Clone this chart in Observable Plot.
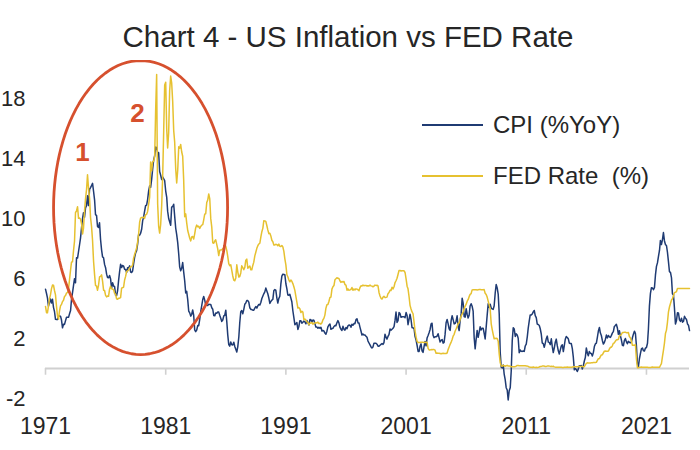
<!DOCTYPE html>
<html>
<head>
<meta charset="utf-8">
<script src="https://cdn.jsdelivr.net/npm/d3@7"></script>
<script src="https://cdn.jsdelivr.net/npm/@observablehq/plot@0.6"></script>
<style>
  body { margin: 0; background: #fff; }
  #wrap { position: relative; width: 700px; height: 450px; overflow: hidden;
          font-family: "Liberation Sans", Arial, sans-serif; color: #262626; }
  #title { position: absolute; left: 0; top: 22px; width: 696px; text-align: center;
           font-size: 29.5px; line-height: 29px; }
  #chart { position: absolute; left: 0; top: 60px; }
  .sw { position: absolute; left: 422px; width: 61px; height: 1.6px; }
  .lt { position: absolute; left: 493px; font-size: 24px; line-height: 24px; white-space: pre; }
</style>
</head>
<body>
<div id="wrap">
  <div id="title">Chart 4 - US Inflation vs FED Rate</div>
  <div id="chart"></div>
  <div class="sw" id="sw0" style="top:124.2px"></div>
  <div class="lt" id="lt0" style="top:113.3px"></div>
  <div class="sw" id="sw1" style="top:175.2px"></div>
  <div class="lt" id="lt1" style="top:164.3px"></div>
</div>
<script>
// ---- Data (monthly, starting January 1971) ----
const startYear = 1971;
const seriesNames = ["CPI (%YoY)", "FED Rate  (%)"];
const seriesColors = ["#1f3b73", "#e6c130"];

const cpiValues = [
5.29,5.00,4.71,4.16,4.40,4.64,4.36,4.62,4.08,3.80,3.28,3.27,
3.27,3.51,3.50,3.49,3.23,2.71,2.95,2.94,3.19,3.42,3.41,3.41,
3.65,3.87,4.59,5.06,5.53,5.99,5.72,7.38,7.36,7.80,8.25,8.71,
9.39,10.02,10.39,10.09,10.71,10.86,11.51,10.86,11.95,12.06,12.20,12.34,
11.80,11.23,10.25,10.21,9.47,9.40,9.72,8.60,7.91,7.44,7.38,6.94,
6.72,6.29,6.07,6.05,6.20,5.97,5.35,5.71,5.50,5.46,4.88,4.86,
5.20,5.91,6.44,6.95,6.73,6.87,6.83,6.62,6.60,6.39,6.72,6.70,
6.84,6.43,6.40,6.50,6.97,7.41,7.70,7.86,8.31,8.93,8.89,9.02,
9.28,9.86,10.09,10.49,10.85,10.89,11.26,11.82,12.18,12.07,12.61,13.29,
13.91,14.18,14.76,14.73,14.41,14.38,13.13,12.88,12.60,12.77,12.65,12.52,
11.83,11.41,10.49,10.00,9.78,9.55,10.76,10.80,10.95,10.14,9.35,8.92,
8.39,7.62,6.78,6.51,6.68,7.06,6.44,5.85,5.04,5.14,4.59,3.83,
3.71,3.49,3.60,3.90,3.55,2.58,2.46,2.56,2.86,2.85,3.27,3.79,
4.19,4.60,4.80,4.56,4.23,4.22,4.20,4.29,4.27,4.26,4.05,3.95,
3.53,3.52,3.70,3.69,3.77,3.76,3.55,3.35,3.14,3.23,3.51,3.55,
3.89,3.11,2.26,1.59,1.49,1.77,1.58,1.57,1.75,1.47,1.28,1.10,
1.46,2.10,3.03,3.78,3.86,3.65,3.93,4.28,4.36,4.53,4.53,4.43,
4.05,3.94,3.93,3.89,3.89,4.02,4.13,4.03,4.17,4.27,4.23,4.40,
4.67,4.83,4.98,5.11,5.36,5.17,4.98,4.70,4.34,4.47,4.56,4.61,
5.20,5.26,5.23,4.71,4.36,4.67,4.82,5.62,6.16,6.29,6.27,6.25,
5.65,5.31,4.90,4.89,4.95,4.70,4.45,3.85,3.39,2.92,2.99,3.06,
2.60,2.82,3.19,3.18,3.02,3.09,3.16,3.11,2.98,3.20,3.05,2.90,
3.26,3.25,3.09,3.23,3.22,2.99,2.76,2.76,2.69,2.75,2.68,2.75,
2.50,2.53,2.51,2.36,2.29,2.49,2.77,2.90,2.97,2.61,2.67,2.67,
2.80,2.86,2.85,3.05,3.19,3.04,2.76,2.62,2.54,2.81,2.61,2.56,
2.73,2.65,2.84,2.90,2.89,2.75,2.95,2.88,3.00,2.99,3.26,3.32,
3.04,3.03,2.76,2.50,2.23,2.30,2.23,2.23,2.15,2.08,1.83,1.70,
1.57,1.44,1.37,1.44,1.69,1.68,1.68,1.62,1.49,1.49,1.55,1.61,
1.67,1.61,1.73,2.28,2.09,1.96,2.14,2.26,2.63,2.56,2.62,2.68,
2.79,3.22,3.76,3.07,3.19,3.73,3.66,3.41,3.45,3.45,3.45,3.39,
3.73,3.53,2.92,3.27,3.62,3.25,2.72,2.72,2.65,2.13,1.90,1.55,
1.14,1.14,1.48,1.64,1.18,1.07,1.46,1.80,1.51,2.03,2.20,2.38,
2.60,2.98,3.02,2.22,2.06,2.11,2.11,2.16,2.32,2.04,1.77,1.88,
1.93,1.69,1.74,2.29,3.05,3.27,2.99,2.65,2.54,3.19,3.52,3.26,
2.97,3.01,3.15,3.51,2.80,2.53,3.17,3.64,4.69,4.35,3.46,3.42,
3.99,3.60,3.36,3.55,4.17,4.32,4.15,3.82,2.06,1.31,1.97,2.54,
2.08,2.42,2.78,2.57,2.69,2.69,2.36,1.97,2.76,3.54,4.31,4.08,
4.28,4.03,3.98,3.94,4.18,5.02,5.60,5.37,4.94,3.66,1.07,0.09,
0.03,0.24,-0.38,-0.74,-1.28,-1.43,-2.10,-1.48,-1.29,-0.18,1.84,2.72,
2.63,2.14,2.31,2.24,2.02,1.05,1.24,1.15,1.14,1.17,1.14,1.50,
1.63,2.11,2.68,3.16,3.57,3.56,3.63,3.77,3.87,3.53,3.39,2.96,
2.93,2.87,2.65,2.30,1.70,1.66,1.41,1.69,1.99,2.16,1.76,1.74,
1.59,1.98,1.47,1.06,1.36,1.75,1.96,1.52,1.18,0.96,1.24,1.50,
1.58,1.13,1.51,1.95,2.13,2.07,1.99,1.70,1.66,1.66,1.32,0.76,
-0.09,0.00,-0.07,-0.20,-0.04,0.18,0.17,0.20,-0.04,0.17,0.50,0.73,
1.37,1.02,0.85,1.13,1.02,1.00,0.83,1.06,1.46,1.64,1.69,2.07,
2.50,2.74,2.38,2.20,1.87,1.63,1.73,1.94,2.23,2.04,2.20,2.11,
2.07,2.21,2.36,2.46,2.80,2.87,2.95,2.70,2.28,2.52,2.18,1.91,
1.55,1.52,1.86,2.00,1.79,1.65,1.81,1.75,1.71,1.76,2.05,2.29,
2.49,2.33,1.54,0.33,0.12,0.65,0.99,1.31,1.37,1.18,1.17,1.36,
1.40,1.68,2.62,4.16,4.99,5.39,5.37,5.25,5.39,6.22,6.81,7.04,
7.48,7.87,8.54,8.26,8.58,9.06,8.52,8.26,8.20,7.75,7.11,6.45,
6.41,6.04,4.98,4.93,4.05,2.97,3.18,3.71,3.70,3.24,3.14,3.35,
3.09,3.15,3.48,3.36,3.27,2.97,2.89,2.53
];

const fedValues = [
4.14,3.72,3.71,4.15,4.63,4.91,5.31,5.56,5.55,5.20,4.91,4.14,
3.50,3.29,3.83,4.17,4.27,4.46,4.55,4.80,4.87,5.04,5.06,5.33,
5.94,6.58,7.09,7.12,7.84,8.49,10.40,10.50,10.78,10.01,10.03,9.95,
9.65,8.97,9.35,10.51,11.31,11.93,12.92,12.01,11.34,10.06,9.45,8.53,
7.13,6.24,5.54,5.49,5.22,5.55,6.10,6.14,6.24,5.82,5.22,5.20,
4.87,4.77,4.84,4.82,5.29,5.48,5.31,5.29,5.25,5.02,4.95,4.65,
4.61,4.68,4.69,4.73,5.35,5.39,5.42,5.90,6.14,6.47,6.51,6.56,
6.70,6.78,6.79,6.89,7.36,7.60,7.81,8.04,8.45,8.96,9.76,10.03,
10.07,10.06,10.09,10.01,10.24,10.29,10.47,10.94,11.43,13.77,13.18,13.78,
13.82,14.13,17.19,19.60,10.98,9.47,9.03,9.61,10.87,12.81,15.85,18.90,
19.08,15.93,14.70,15.72,18.52,19.50,19.04,17.82,15.87,15.08,13.31,12.37,
13.22,14.78,14.68,14.94,14.45,14.15,12.59,10.12,10.31,9.71,9.20,8.95,
8.68,8.51,8.77,8.80,8.63,8.98,9.37,9.56,9.45,9.48,9.34,9.47,
9.56,9.59,9.91,10.29,10.32,11.06,11.23,11.64,11.30,9.99,9.43,8.38,
8.35,8.50,8.58,8.27,7.97,7.53,7.88,7.90,7.92,7.99,8.05,8.27,
8.14,7.86,7.48,6.99,6.85,6.92,6.56,6.17,5.89,5.85,6.04,6.91,
6.43,6.10,6.13,6.37,6.85,6.73,6.58,6.73,7.22,7.29,6.69,6.77,
6.83,6.58,6.58,6.87,7.09,7.51,7.75,8.01,8.19,8.30,8.35,8.76,
9.12,9.36,9.85,9.84,9.81,9.53,9.24,8.99,9.02,8.84,8.55,8.45,
8.23,8.24,8.28,8.26,8.18,8.29,8.15,8.13,8.20,8.11,7.81,7.31,
6.91,6.25,6.12,5.91,5.78,5.90,5.82,5.66,5.45,5.21,4.81,4.43,
4.03,4.06,3.98,3.73,3.82,3.76,3.25,3.30,3.22,3.10,3.09,2.92,
3.02,3.03,3.07,2.96,3.00,3.04,3.06,3.03,3.09,2.99,3.02,2.96,
3.05,3.25,3.34,3.56,4.01,4.25,4.26,4.47,4.73,4.76,5.29,5.45,
5.53,5.92,5.98,6.05,6.01,6.00,5.85,5.74,5.80,5.76,5.80,5.60,
5.56,5.22,5.31,5.22,5.24,5.27,5.40,5.22,5.30,5.24,5.31,5.29,
5.25,5.19,5.39,5.51,5.50,5.56,5.52,5.54,5.54,5.50,5.52,5.50,
5.56,5.51,5.49,5.45,5.49,5.56,5.54,5.55,5.51,5.07,4.83,4.68,
4.63,4.76,4.81,4.74,4.74,4.76,4.99,5.07,5.22,5.20,5.42,5.30,
5.45,5.73,5.85,6.02,6.27,6.53,6.54,6.50,6.52,6.51,6.51,6.40,
5.98,5.49,5.31,4.80,4.21,3.97,3.77,3.65,3.07,2.49,2.09,1.82,
1.73,1.74,1.73,1.75,1.75,1.75,1.73,1.74,1.75,1.75,1.34,1.24,
1.24,1.26,1.25,1.26,1.26,1.22,1.01,1.03,1.01,1.01,1.00,0.98,
1.00,1.01,1.00,1.00,1.00,1.03,1.26,1.43,1.61,1.76,1.93,2.16,
2.28,2.50,2.63,2.79,3.00,3.04,3.26,3.50,3.62,3.78,4.00,4.16,
4.29,4.49,4.59,4.79,4.94,4.99,5.24,5.25,5.25,5.25,5.25,5.24,
5.25,5.26,5.26,5.25,5.25,5.25,5.26,5.02,4.94,4.76,4.49,4.24,
3.94,2.98,2.61,2.28,1.98,2.00,2.01,2.00,1.81,0.97,0.39,0.16,
0.15,0.22,0.18,0.15,0.18,0.21,0.16,0.16,0.15,0.12,0.12,0.12,
0.11,0.13,0.16,0.20,0.20,0.18,0.18,0.19,0.19,0.19,0.19,0.18,
0.17,0.16,0.14,0.10,0.09,0.09,0.07,0.10,0.08,0.07,0.08,0.07,
0.08,0.10,0.13,0.14,0.16,0.16,0.16,0.13,0.14,0.16,0.16,0.16,
0.14,0.15,0.14,0.15,0.11,0.09,0.09,0.08,0.08,0.09,0.08,0.09,
0.07,0.07,0.08,0.09,0.09,0.10,0.09,0.09,0.09,0.09,0.09,0.12,
0.11,0.11,0.11,0.12,0.12,0.13,0.13,0.14,0.14,0.12,0.12,0.24,
0.34,0.38,0.36,0.37,0.37,0.38,0.39,0.40,0.40,0.40,0.41,0.54,
0.65,0.66,0.79,0.90,0.91,1.04,1.15,1.16,1.15,1.15,1.16,1.30,
1.41,1.42,1.51,1.69,1.70,1.82,1.91,1.91,1.95,2.19,2.20,2.27,
2.40,2.40,2.41,2.42,2.39,2.38,2.40,2.13,2.04,1.83,1.55,1.55,
1.55,1.58,0.65,0.05,0.05,0.08,0.09,0.10,0.09,0.09,0.09,0.09,
0.09,0.08,0.07,0.07,0.06,0.08,0.10,0.09,0.08,0.08,0.08,0.08,
0.08,0.08,0.20,0.33,0.77,1.21,1.68,2.33,2.56,3.08,3.78,4.10,
4.33,4.57,4.65,4.83,5.06,5.08,5.12,5.33,5.33,5.33,5.33,5.33,
5.33,5.33,5.33,5.33,5.33,5.33,5.33,5.33
];

const xTickYears = [1971, 1981, 1991, 2001, 2011, 2021];
const yTicks = [-2, 2, 6, 10, 14, 18];

// Annotation: circled area and the "1", "2" labels (in data units: year, %)
const annotLabels = ["1", "2"];
const annotYears = [1974.08, 1978.66];
const annotValues = [14.4, 17.0];
const ellipseCenterYear = 1978.91, ellipseCenterValue = 10.73;
const ellipseRadiusYears = 7.24, ellipseRadiusValue = 9.8;
const annotColor = "#d6502e";

// ---- Build tables ----
const monthDate = i => new Date(Date.UTC(startYear, i, 1));
const yearDate = y => new Date(Date.UTC(1971, 0, 1) + (y - 1971) * 365.25 * 864e5);
const cpi = cpiValues.map((v, i) => ({date: monthDate(i), value: v}));
const fed = fedValues.map((v, i) => ({date: monthDate(i), value: v}));
const xTicks = xTickYears.map(y => new Date(Date.UTC(y, 0, 1)));
const ellipse = d3.range(0, 121).map(k => {
  const t = k / 120 * 2 * Math.PI;
  return {date: yearDate(ellipseCenterYear + ellipseRadiusYears * Math.cos(t)),
          value: ellipseCenterValue + ellipseRadiusValue * Math.sin(t)};
});
const labels = annotLabels.map((s, i) => ({text: s, date: yearDate(annotYears[i]), value: annotValues[i]}));

const chart = Plot.plot({
  width: 700,
  height: 390,
  marginLeft: 45,
  marginRight: 11,
  marginTop: 8,
  marginBottom: 37,
  style: {fontFamily: '"Liberation Sans", Arial, sans-serif', fontSize: "23px", color: "#262626", background: "transparent"},
  x: {type: "utc", domain: [monthDate(0), monthDate(cpiValues.length - 1)], label: null},
  y: {domain: [-3, 20], label: null},
  marks: [
    Plot.ruleY([0], {stroke: "#d0d0d0", strokeWidth: 2}),
    Plot.ruleX(xTicks, {x: d => d, y1: 0, y2: -0.45, stroke: "#d0d0d0", strokeWidth: 1.6}),
    Plot.axisY({ticks: yTicks, tickSize: 0, tickPadding: 20, tickFormat: d => String(d), fontSize: 22, label: null}),
    Plot.axisX({ticks: xTicks, tickSize: 0, tickPadding: 4, tickFormat: d => String(d.getUTCFullYear()), fontSize: 23, label: null}),
    Plot.line(cpi, {x: "date", y: "value", stroke: seriesColors[0], strokeWidth: 1.5}),
    Plot.line(fed, {x: "date", y: "value", stroke: seriesColors[1], strokeWidth: 1.5}),
    Plot.line(ellipse, {x: "date", y: "value", stroke: annotColor, strokeWidth: 2.8, curve: "linear-closed"}),
    Plot.text(labels, {x: "date", y: "value", text: "text", fill: annotColor, fontSize: 26, fontWeight: "bold"})
  ]
});
document.getElementById("chart").appendChild(chart);

// Legend
["0", "1"].forEach((k, i) => {
  document.getElementById("sw" + k).style.background = seriesColors[i];
  document.getElementById("lt" + k).textContent = seriesNames[i];
});
</script>
</body>
</html>
